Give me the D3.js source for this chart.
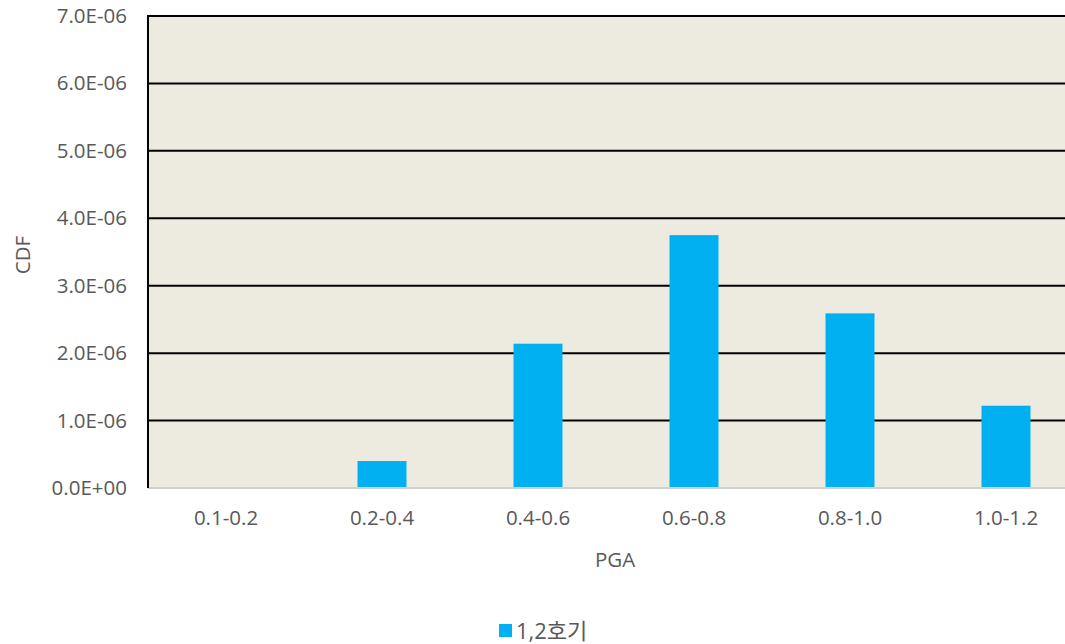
<!DOCTYPE html>
<html>
<head>
<meta charset="utf-8">
<script src="https://cdn.jsdelivr.net/npm/d3@7"></script>
<style>
  html, body { margin: 0; padding: 0; background: #ffffff; }
  svg text { font-family: "Open Sans", "Noto Sans CJK KR", sans-serif; fill: #595959; }
</style>
</head>
<body>
<svg id="chart" width="1065" height="644"></svg>
<script>
// PGA bins and CDF contribution per bin
const categories = ["0.1-0.2", "0.2-0.4", "0.4-0.6", "0.6-0.8", "0.8-1.0", "1.0-1.2"];
const values = [0, 0.40e-6, 2.14e-6, 3.75e-6, 2.59e-6, 1.22e-6];
const yTicks = [0, 1e-6, 2e-6, 3e-6, 4e-6, 5e-6, 6e-6, 7e-6];
const seriesName = "1,2호기";

const svg = d3.select("#chart");
const plotLeft = 148, plotRight = 1084, plotTop = 16, plotBottom = 488;
const fontSize = 20.5;

const x = d3.scaleBand().domain(categories).range([plotLeft, plotRight]).paddingInner(0.686).paddingOuter(0.343);
const y = d3.scaleLinear().domain([0, 7e-6]).range([plotBottom, plotTop]);

// plot background
svg.append("rect").attr("x", plotLeft).attr("y", plotTop)
  .attr("width", plotRight - plotLeft).attr("height", plotBottom - plotTop)
  .attr("fill", "#edeae0");

// gridlines
svg.append("g").selectAll("line").data(yTicks.filter(d => d > 0)).join("line")
  .attr("x1", plotLeft).attr("x2", plotRight)
  .attr("y1", d => y(d)).attr("y2", d => y(d))
  .attr("stroke", "#000").attr("stroke-width", 2);

// bars
svg.append("g").selectAll("rect").data(categories).join("rect")
  .attr("x", d => x(d))
  .attr("width", x.bandwidth())
  .attr("y", (d, i) => y(values[i]))
  .attr("height", (d, i) => plotBottom - y(values[i]))
  .attr("fill", "#00b0f0");

// axis lines
svg.append("line").attr("x1", plotLeft).attr("x2", plotRight).attr("y1", plotBottom).attr("y2", plotBottom)
  .attr("stroke", "#d0d0d0").attr("stroke-width", 2);
svg.append("line").attr("x1", plotLeft).attr("x2", plotLeft).attr("y1", plotTop - 1).attr("y2", plotBottom)
  .attr("stroke", "#000").attr("stroke-width", 2);

// y axis labels
const fmt = d => d === 0 ? "0.0E+00" : (d / 1e-6).toFixed(1) + "E-06";
const yAxis = d3.axisLeft(y).tickValues(yTicks).tickFormat(fmt).tickSize(0).tickPadding(21);
const gy = svg.append("g").attr("transform", `translate(${plotLeft},0)`).call(yAxis);
gy.select(".domain").remove();
gy.selectAll("text").attr("font-size", fontSize).style("font-family", '"Open Sans", sans-serif').attr("fill", "#595959");

// x axis labels
const xAxis = d3.axisBottom(x).tickSize(0).tickPadding(22);
const gx = svg.append("g").attr("transform", `translate(0,${plotBottom})`).call(xAxis);
gx.select(".domain").remove();
gx.selectAll("text").attr("font-size", fontSize).style("font-family", '"Open Sans", sans-serif').attr("fill", "#595959");

// axis titles
svg.append("text").attr("x", 615).attr("y", 567).attr("text-anchor", "middle").attr("font-size", fontSize).text("PGA");
svg.append("text").attr("transform", "translate(30,255) rotate(-90)").attr("text-anchor", "middle").attr("font-size", fontSize).text("CDF");

// legend
svg.append("rect").attr("x", 499).attr("y", 624).attr("width", 13).attr("height", 13).attr("fill", "#00b0f0");
svg.append("text").attr("x", 516).attr("y", 639).attr("font-size", 22).text(seriesName);
</script>
</body>
</html>
